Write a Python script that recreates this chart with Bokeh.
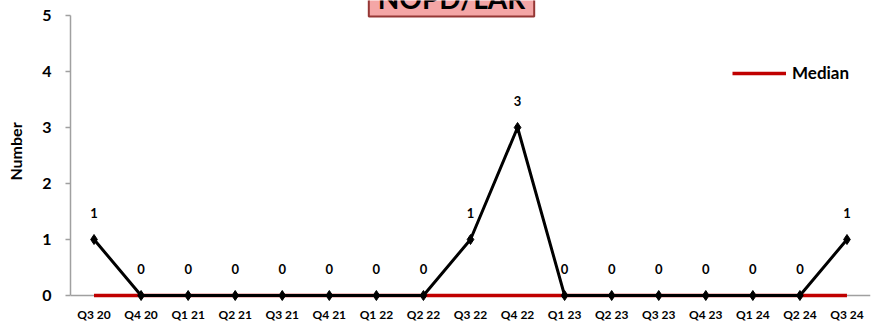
from bokeh.plotting import figure
from bokeh.models import ColumnDataSource, Range1d, Label, Legend, LegendItem, Span
from bokeh.core.properties import value
from bokeh.embed import file_html
from bokeh.resources import INLINE

quarters = ["Q3 20", "Q4 20", "Q1 21", "Q2 21", "Q3 21", "Q4 21", "Q1 22", "Q2 22",
            "Q3 22", "Q4 22", "Q1 23", "Q2 23", "Q3 23", "Q4 23", "Q1 24", "Q2 24", "Q3 24"]
counts = [1, 0, 0, 0, 0, 0, 0, 0, 1, 3, 0, 0, 0, 0, 0, 0, 1]
median = [0] * 17
y_ticks = [0, 1, 2, 3, 4, 5]
title_text = "NOPD/LAR"

FONT = "Lato"
W, H = 883, 325

p = figure(x_range=quarters, y_range=Range1d(-0.125, 5.268), width=W, height=H,
           output_backend="svg", toolbar_location=None,
           min_border_left=70, min_border_right=13, min_border_top=0, min_border_bottom=23)
p.x_range.range_padding = 0
p.outline_line_color = None
p.grid.visible = False

src = ColumnDataSource(dict(q=quarters, c=counts, m=median, lbl=[str(v) for v in counts]))

# baseline (x axis line) at zero
p.add_layout(Span(location=0, dimension="width", line_color="#A0A0A0",
                  line_width=1.5, level="underlay"))

med = p.line("q", "m", source=src, line_color="#C00000", line_width=3.5)
p.line("q", "c", source=src, line_color="black", line_width=3)
p.scatter("q", "c", source=src, marker="diamond", size=10, color="black")
p.text("q", "c", text="lbl", source=src, y_offset=-27, text_align="center",
       text_baseline="middle", text_font=value(FONT), text_font_style="bold",
       text_font_size="13px", text_color="black")

# axes
ax = p.yaxis[0]
ax.ticker = y_ticks
ax.bounds = (0, 5)
ax.axis_line_color = "#A0A0A0"
ax.axis_line_width = 1.5
ax.major_tick_line_color = "#A0A0A0"
ax.major_tick_line_width = 1.5
ax.major_tick_out = 5
ax.major_tick_in = 0
ax.minor_tick_line_color = None
ax.major_label_text_font = FONT
ax.major_label_text_font_style = "bold"
ax.major_label_text_font_size = "16px"
ax.major_label_text_color = "black"
ax.major_label_standoff = 14
ax.axis_label = "Number"
ax.axis_label_text_font = FONT
ax.axis_label_text_font_style = "bold"
ax.axis_label_text_font_size = "16px"
ax.axis_label_text_color = "black"
ax.axis_label_standoff = 14

bx = p.xaxis[0]
bx.axis_line_color = None
bx.major_tick_line_color = None
bx.major_tick_out = 0
bx.major_tick_in = 0
bx.minor_tick_line_color = None
bx.major_label_text_font = FONT
bx.major_label_text_font_style = "bold"
bx.major_label_text_font_size = "12px"
bx.major_label_text_color = "black"
bx.major_label_standoff = 4

legend = Legend(items=[LegendItem(label="Median", renderers=[med])],
                location=(662, 219), orientation="vertical",
                glyph_width=54, glyph_height=20, label_height=20,
                label_standoff=6, padding=0, margin=0, spacing=0,
                border_line_color=None, background_fill_alpha=0,
                label_text_font=FONT, label_text_font_style="bold",
                label_text_font_size="17px", label_text_color="black")
p.add_layout(legend)

shadow = Label(x=383, y=302, x_units="screen", y_units="screen", text=title_text,
               text_align="center", text_baseline="middle", text_alpha=0,
               text_font=FONT, text_font_style="bold", text_font_size="28px",
               background_fill_color="#808080", background_fill_alpha=0.35,
               border_line_color=None, padding=(9, 9, 2, 2))
p.add_layout(shadow)
title = Label(x=381, y=305, x_units="screen", y_units="screen", text=title_text,
              text_align="center", text_baseline="middle", text_color="black",
              text_font=FONT, text_font_style="bold", text_font_size="28px",
              background_fill_color="#F4A6A6", border_line_color="#953735",
              border_line_width=2, padding=(9, 9, 2, 2))
p.add_layout(title)

open("out.html", "w").write(file_html(p, INLINE))
